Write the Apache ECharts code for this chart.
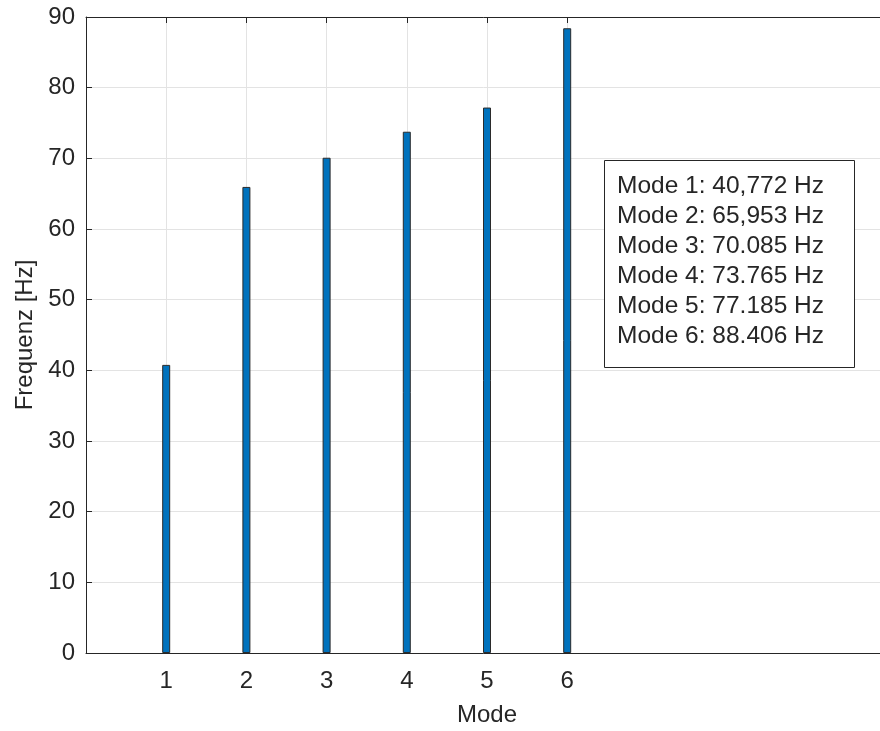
<!DOCTYPE html>
<html>
<head>
<meta charset="utf-8">
<script src="https://cdn.jsdelivr.net/npm/echarts@6/dist/echarts.min.js"></script>
<style>
  html, body { margin: 0; padding: 0; background: #fff; }
  #chart { width: 880px; height: 731px; }
</style>
</head>
<body>
<div id="chart"></div>
<script>
// x axis runs 0..10, only modes 1..6 carry ticks / labels
const xSlots = ['0', '1', '2', '3', '4', '5', '6', '7', '8', '9', '10'];
const modes = ['1', '2', '3', '4', '5', '6'];
const frequencies = [40.772, 65.953, 70.085, 73.765, 77.185, 88.406];
const noteLines = [
  'Mode 1: 40,772 Hz',
  'Mode 2: 65,953 Hz',
  'Mode 3: 70.085 Hz',
  'Mode 4: 73.765 Hz',
  'Mode 5: 77.185 Hz',
  'Mode 6: 88.406 Hz'
];

const FONT = "'Liberation Sans', Arial, Helvetica, sans-serif";
const INK = '#262626';

const isMode = (idx) => modes.indexOf(xSlots[idx]) !== -1;

const barData = xSlots.map((s) => {
  const i = modes.indexOf(s);
  return i === -1 ? '-' : frequencies[i];
});

const drawEcharts = (option, id) => {
  let dom = document.getElementById(id);
  let echart = echarts.init(dom);
  option && echart.setOption(option);
  window.addEventListener('resize', function () {
    echart.resize();
  });
};

const option = {
  animation: false,
  backgroundColor: '#fff',
  textStyle: { fontFamily: FONT, color: INK },
  grid: { left: 86, top: 17, bottom: 78, right: -8, containLabel: false, outerBoundsMode: 'none' },
  xAxis: [
    {
      type: 'category',
      data: xSlots,
      boundaryGap: false,
      position: 'bottom',
      name: 'Mode',
      nameLocation: 'middle',
      nameGap: 50,
      nameTextStyle: { fontSize: 24, color: INK, fontFamily: FONT },
      axisLine: { show: true, lineStyle: { color: INK, width: 1 } },
      axisTick: { show: true, inside: true, length: 6, interval: (i) => isMode(i), lineStyle: { color: INK } },
      axisLabel: { interval: (i) => isMode(i), fontSize: 24, color: INK, fontFamily: FONT, margin: 16 },
      splitLine: { show: true, interval: (i) => isMode(i), lineStyle: { color: '#e3e3e3', width: 1 } }
    },
    {
      type: 'category',
      data: xSlots,
      boundaryGap: false,
      position: 'top',
      axisLine: { show: true, lineStyle: { color: INK, width: 1 } },
      axisTick: { show: true, inside: true, length: 6, interval: (i) => isMode(i), lineStyle: { color: INK } },
      axisLabel: { show: false },
      splitLine: { show: false }
    }
  ],
  yAxis: {
    type: 'value',
    min: 0,
    max: 90,
    interval: 10,
    name: 'Frequenz [Hz]',
    nameLocation: 'middle',
    nameGap: 49,
    nameRotate: 90,
    nameTextStyle: { fontSize: 24, color: INK, fontFamily: FONT },
    axisLine: { show: true, lineStyle: { color: INK, width: 1 } },
    axisTick: { show: true, inside: true, length: 6, lineStyle: { color: INK } },
    axisLabel: { fontSize: 24, color: INK, fontFamily: FONT, margin: 11 },
    splitLine: { show: true, lineStyle: { color: '#e3e3e3', width: 1 } }
  },
  series: [
    {
      type: 'bar',
      xAxisIndex: 0,
      data: barData,
      barWidth: 8,
      itemStyle: { color: '#0072BD', borderColor: '#2b2b2b', borderWidth: 1 },
      z: 3
    }
  ],
  graphic: [
    {
      type: 'rect',
      left: 604,
      top: 160,
      shape: { width: 250, height: 207 },
      style: { fill: '#fff', stroke: INK, lineWidth: 1 },
      z: 10
    },
    {
      type: 'text',
      left: 617,
      top: 171,
      style: {
        text: noteLines.join('\n'),
        font: '24.5px ' + FONT,
        lineHeight: 30.1,
        fill: INK
      },
      z: 11
    }
  ]
};

drawEcharts(option, 'chart');
</script>
</body>
</html>
